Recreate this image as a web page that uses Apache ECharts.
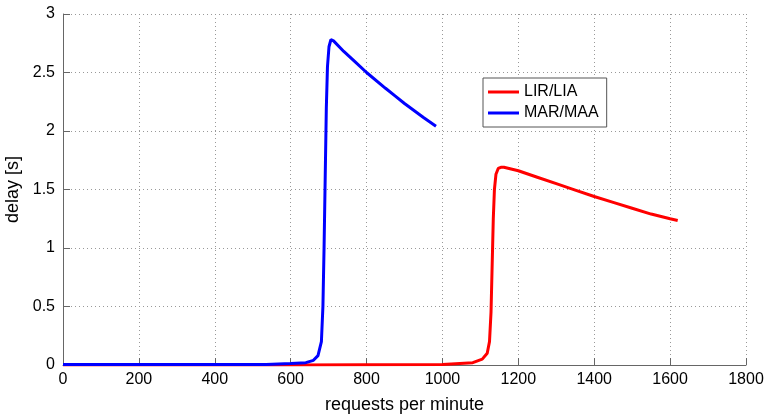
<!DOCTYPE html>
<html>
<head>
<meta charset="utf-8">
<script src="https://cdn.jsdelivr.net/npm/echarts@6/dist/echarts.min.js"></script>
<style>html,body{margin:0;padding:0;background:#fff}#c{width:765px;height:414px}</style>
</head>
<body>
<div id="c"></div>
<script>
const xTicks = [0, 200, 400, 600, 800, 1000, 1200, 1400, 1600, 1800];
const yTicks = [0, 0.5, 1, 1.5, 2, 2.5, 3];
const seriesNames = ['LIR/LIA', 'MAR/MAA'];

const redX = [0, 600, 1000, 1080, 1105, 1118, 1124, 1128, 1131, 1134, 1137, 1141, 1147, 1154, 1162, 1200, 1250, 1300, 1350, 1400, 1450, 1500, 1550, 1600, 1620];
const redY = [0, 0, 0.005, 0.02, 0.05, 0.1, 0.2, 0.45, 0.85, 1.25, 1.5, 1.63, 1.68, 1.69, 1.69, 1.66, 1.605, 1.55, 1.495, 1.44, 1.39, 1.34, 1.29, 1.25, 1.235];

const blueX = [0, 535, 540, 600, 640, 660, 672, 681, 685, 688, 691, 694, 697, 701, 706, 713, 740, 770, 800, 850, 875, 900, 925, 950, 983];
const blueY = [0.005, 0.005, 0.012, 0.013, 0.02, 0.04, 0.08, 0.2, 0.5, 1.0, 1.6, 2.2, 2.55, 2.72, 2.78, 2.77, 2.68, 2.59, 2.5, 2.365, 2.3, 2.235, 2.175, 2.115, 2.04];

function pairs(xs, ys) { return xs.map((x, i) => [x, ys[i]]); }

const chart = echarts.init(document.getElementById('c'));
const font = 'Liberation Sans, Arial, sans-serif';
chart.setOption({
  animation: false,
  backgroundColor: '#fff',
  grid: { left: 63, right: 19, top: 14, bottom: 49, containLabel: false, outerBoundsMode: 'none' },
  legend: {
    orient: 'vertical',
    left: 483, top: 78,
    padding: [6, 8, 6, 5],
    icon: 'rect',
    itemWidth: 31, itemHeight: 3, itemGap: 5,
    backgroundColor: '#fff',
    borderColor: '#555', borderWidth: 1,
    textStyle: { fontFamily: font, fontSize: 16, lineHeight: 16, color: '#000' },
    data: seriesNames
  },
  xAxis: {
    type: 'value', min: 0, max: 1800, interval: 200,
    name: 'requests per minute', nameLocation: 'middle', nameGap: 31,
    nameTextStyle: { fontFamily: font, fontSize: 18, color: '#000' },
    axisLine: { show: true, onZero: false, lineStyle: { color: '#666', width: 1 } },
    axisTick: { show: true, inside: true, length: 7, lineStyle: { color: '#666' } },
    axisLabel: { fontFamily: font, fontSize: 16, color: '#000', margin: 7, formatter: v => String(v) },
    splitLine: { show: true, lineStyle: { type: [1, 3], color: '#999', width: 1 } }
  },
  yAxis: {
    type: 'value', min: 0, max: 3, interval: 0.5,
    name: 'delay [s]', nameLocation: 'middle', nameGap: 33,
    nameTextStyle: { fontFamily: font, fontSize: 18, color: '#000' },
    axisLine: { show: true, lineStyle: { color: '#666', width: 1 } },
    axisTick: { show: true, inside: true, length: 7, lineStyle: { color: '#666' } },
    axisLabel: { fontFamily: font, fontSize: 16, color: '#000', margin: 8, formatter: v => String(v) },
    splitLine: { show: true, lineStyle: { type: [1, 3], color: '#999', width: 1 } }
  },
  series: [
    { name: seriesNames[0], type: 'line', data: pairs(redX, redY), symbol: 'none', smooth: false,
      lineStyle: { color: '#ff0000', width: 3 }, itemStyle: { color: '#ff0000' } },
    { name: seriesNames[1], type: 'line', data: pairs(blueX, blueY), symbol: 'none', smooth: false,
      lineStyle: { color: '#0000ff', width: 3 }, itemStyle: { color: '#0000ff' } }
  ]
});
</script>
</body>
</html>
